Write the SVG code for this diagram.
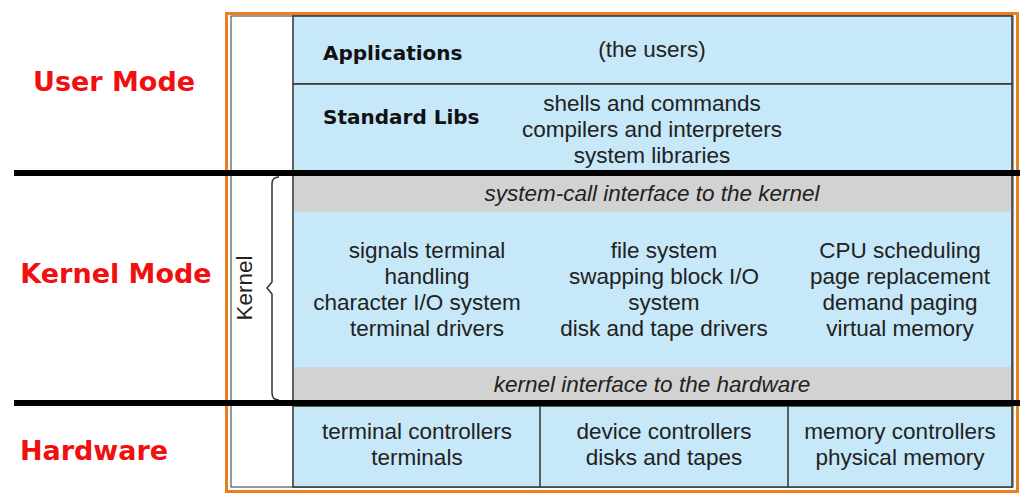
<svg xmlns="http://www.w3.org/2000/svg" width="1029" height="502" viewBox="0 0 1029 502">
<style>
.t{font-family:"Liberation Sans",Arial,sans-serif;font-size:22.5px;fill:#222;text-anchor:middle}
.i{font-style:italic}
.c{font-family:"DejaVu Sans",sans-serif;font-weight:bold;font-size:20px;fill:#111}
.r{font-family:"DejaVu Sans",sans-serif;font-weight:bold;font-size:27px;fill:#f01010;text-anchor:middle}
.b{fill:#c6e8f8;stroke:#333;stroke-width:1.5}
.g{fill:#d2d2d2}
</style>
<rect width="1029" height="502" fill="#fff"/>
<g id="frame">
<rect x="226.5" y="13.5" width="791" height="478" fill="none" stroke="#e8801e" stroke-width="3"/>
<rect x="231" y="16" width="782" height="471" fill="none" stroke="#333" stroke-width="1"/>
</g>
<g id="user">
<rect class="b" x="293" y="16" width="719" height="68"/>
<text class="c" x="323" y="60">Applications</text>
<text class="t" x="652" y="57">(the users)</text>
<rect class="b" x="293" y="84" width="719" height="88"/>
<text class="c" x="323" y="124">Standard Libs</text>
<text class="t" x="652" y="111">shells and commands</text>
<text class="t" x="652" y="137">compilers and interpreters</text>
<text class="t" x="652" y="163">system libraries</text>
</g>
<g id="kernel">
<rect class="b" x="293" y="175" width="719" height="229"/>
<rect class="g" x="294" y="176" width="717" height="36"/>
<text class="t i" x="652" y="201">system-call interface to the kernel</text>
<rect class="g" x="294" y="367" width="717" height="34"/>
<text class="t i" x="652" y="392">kernel interface to the hardware</text>
<text class="t" x="427" y="258">signals terminal</text>
<text class="t" x="427" y="284">handling</text>
<text class="t" x="417" y="310">character I/O system</text>
<text class="t" x="427" y="336">terminal drivers</text>
<text class="t" x="664" y="258">file system</text>
<text class="t" x="664" y="284">swapping block I/O</text>
<text class="t" x="664" y="310">system</text>
<text class="t" x="664" y="336">disk and tape drivers</text>
<text class="t" x="900" y="258">CPU scheduling</text>
<text class="t" x="900" y="284">page replacement</text>
<text class="t" x="900" y="310">demand paging</text>
<text class="t" x="900" y="336">virtual memory</text>
<path d="M279 177 Q272 177 272 184 L272 282 L267 288 L272 294 L272 393 Q272 400 279 400" fill="none" stroke="#333" stroke-width="1.5"/>
<text class="t" x="0" y="0" transform="translate(252,288) rotate(-90)">Kernel</text>
</g>
<g id="hardware">
<rect class="b" x="293" y="406" width="719" height="81"/>
<line x1="540" y1="406" x2="540" y2="487" stroke="#333" stroke-width="1.5"/>
<line x1="788" y1="406" x2="788" y2="487" stroke="#333" stroke-width="1.5"/>
<text class="t" x="417" y="439">terminal controllers</text>
<text class="t" x="417" y="465">terminals</text>
<text class="t" x="664" y="439">device controllers</text>
<text class="t" x="664" y="465">disks and tapes</text>
<text class="t" x="900" y="439">memory controllers</text>
<text class="t" x="900" y="465">physical memory</text>
</g>
<g id="connectors">
<line x1="14" y1="173" x2="1020" y2="173" stroke="#000" stroke-width="6"/>
<line x1="14" y1="403" x2="1020" y2="403" stroke="#000" stroke-width="6"/>
</g>
<g id="modes">
<text class="r" x="114" y="91">User Mode</text>
<text class="r" x="116" y="283">Kernel Mode</text>
<text class="r" x="94" y="460">Hardware</text>
</g>
</svg>
